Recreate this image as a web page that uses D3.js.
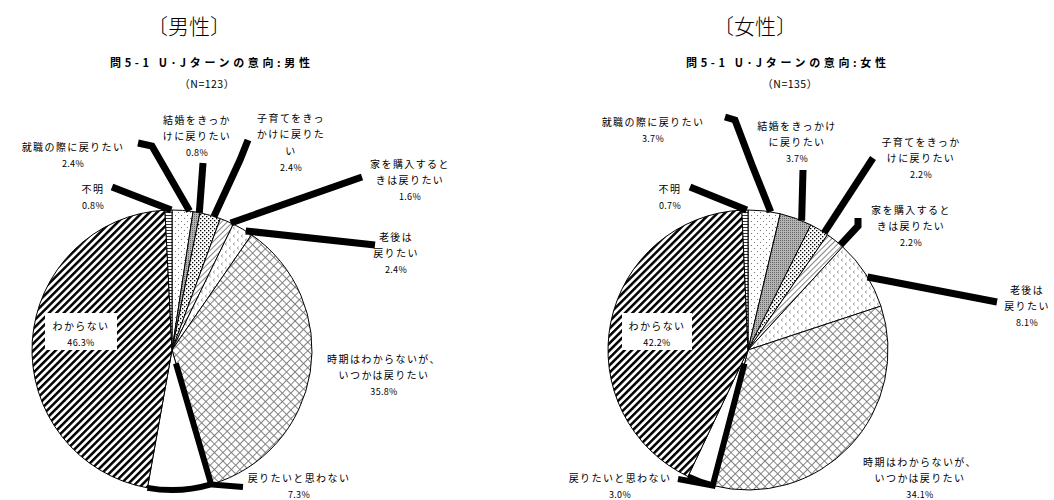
<!DOCTYPE html>
<html lang="ja">
<head>
<meta charset="UTF-8">
<title>U・Jターンの意向</title>
<style>
  body { margin: 0; background: #fff; }
  text { font-family: "Noto Sans CJK JP", "Noto Sans", sans-serif; fill: #000; }
</style>
</head>
<body>
<div id="chart"></div>
<script src="https://d3js.org/d3.v7.min.js"></script>
<script>
// data
const categories = ["就職の際に戻りたい", "結婚をきっかけに戻りたい", "子育てをきっかけに戻りたい",
  "家を購入するときは戻りたい", "老後は戻りたい", "時期はわからないが、いつかは戻りたい",
  "戻りたいと思わない", "わからない", "不明"];
const maleValues = [2.4, 0.8, 2.4, 1.6, 2.4, 35.8, 7.3, 46.3, 0.8];
const femaleValues = [3.7, 3.7, 2.2, 2.2, 8.1, 34.1, 3.0, 42.2, 0.7];
const panelTitles = ["〔男性〕", "〔女性〕"];
const subTitles = ["問5-1  U･Jターンの意向:男性", "問5-1  U･Jターンの意向:女性"];
const sampleSizes = ["（N=123）", "（N=135）"];

// fill per category
const fills = ["url(#pDotsSparse)", "url(#pGray)", "url(#pDotsDense)", "url(#pDiag)", "url(#pChevron)",
  "url(#pCross)", "#fff", "url(#pStripe)", "url(#pHoriz)"];

// label layout: text lines, position, leader points (leader ends on the slice at fraction "at")
const maleLayout = {
  cx: 172, cy: 350, r: 140, titleX: 189, subX: 210, nX: 207,
  labels: [
    { lines: ["就職の際に戻りたい"], x: 73, y: 146, leader: [[138, 143], [152, 146]], at: 0.83 },
    { lines: ["結婚をきっか", "けに戻りたい"], x: 197, y: 119, leader: [[203, 163]], at: 0.9 },
    { lines: ["子育てをきっ", "かけに戻りた", "い"], x: 291, y: 117, leader: [[248, 140], [240, 160]], at: 0.68 },
    { lines: ["家を購入すると", "きは戻りたい"], x: 410, y: 163, leader: [[362, 177]], at: 0.8 },
    { lines: ["老後は", "戻りたい"], x: 396, y: 236, leader: [[375, 245]], at: 0.67 },
    { lines: ["時期はわからないが、", "いつかは戻りたい"], x: 384, y: 358 },
    { lines: ["戻りたいと思わない"], x: 299, y: 477, leader: [[243, 487]], outline: true },
    { lines: ["わからない"], x: 81, y: 325, box: [45, 313, 72, 37] },
    { lines: ["不明"], x: 93, y: 188, leader: [[112, 187]], at: 0.9 }
  ]
};
const femaleLayout = {
  cx: 748, cy: 350, r: 140, titleX: 755, subX: 786, nX: 790,
  labels: [
    { lines: ["就職の際に戻りたい"], x: 653, y: 121, leader: [[725, 117], [735, 120], [752, 165]], at: 0.7 },
    { lines: ["結婚をきっかけ", "に戻りたい"], x: 797, y: 125, leader: [[803, 170]], at: 0.69 },
    { lines: ["子育てをきっか", "けに戻りたい"], x: 921, y: 141, leader: [[873, 158]], at: 0.8 },
    { lines: ["家を購入すると", "きは戻りたい"], x: 911, y: 209, leader: [[858, 218], [858, 226]], at: 0.85 },
    { lines: ["老後は", "戻りたい"], x: 1027, y: 289, leader: [[997, 302]], at: 0.55 },
    { lines: ["時期はわからないが、", "いつかは戻りたい"], x: 920, y: 461 },
    { lines: ["戻りたいと思わない"], x: 620, y: 477, leader: [[678, 479]], outline: true },
    { lines: ["わからない"], x: 657, y: 325, box: [622, 313, 70, 37] },
    { lines: ["不明"], x: 670, y: 188, leader: [[690, 187]], at: 0.8 }
  ]
};

const svg = d3.select("#chart").append("svg")
  .attr("width", 1054)
  .attr("height", 500);

// patterns
const defs = svg.append("defs");
function pattern(id, w, h, transform) {
  const p = defs.append("pattern")
    .attr("id", id)
    .attr("patternUnits", "userSpaceOnUse")
    .attr("width", w)
    .attr("height", h);
  if (transform) p.attr("patternTransform", transform);
  p.append("rect").attr("width", w).attr("height", h).attr("fill", "#fff");
  return p;
}
let p = pattern("pDotsSparse", 6, 6);
p.append("rect").attr("x", 0).attr("y", 0).attr("width", 1).attr("height", 1).attr("fill", "#777");
p.append("rect").attr("x", 3).attr("y", 3).attr("width", 1).attr("height", 1).attr("fill", "#777");

p = pattern("pGray", 2, 2);
p.select("rect").attr("fill", "#b4b4b4");
p.append("rect").attr("width", 1).attr("height", 1).attr("fill", "#666");

p = pattern("pDotsDense", 4, 4);
p.append("rect").attr("x", 0).attr("y", 0).attr("width", 1.3).attr("height", 1.3).attr("fill", "#000");
p.append("rect").attr("x", 2).attr("y", 2).attr("width", 1.3).attr("height", 1.3).attr("fill", "#000");

p = pattern("pDiag", 4, 4, "rotate(45)");
p.append("line").attr("x1", 0.5).attr("y1", 0).attr("x2", 0.5).attr("y2", 4).attr("stroke", "#777").attr("stroke-width", 0.9);

p = pattern("pChevron", 8, 8);
p.append("path").attr("d", "M3,0.5 L1,2 L3,3.5").attr("fill", "none").attr("stroke", "#888").attr("stroke-width", 0.7);
p.append("path").attr("d", "M7,4.5 L5,6 L7,7.5").attr("fill", "none").attr("stroke", "#888").attr("stroke-width", 0.7);

p = pattern("pCross", 6, 6, "rotate(45)");
p.append("line").attr("x1", 0).attr("y1", 0.5).attr("x2", 6).attr("y2", 0.5).attr("stroke", "#777").attr("stroke-width", 0.9);
p.append("line").attr("x1", 0.5).attr("y1", 0).attr("x2", 0.5).attr("y2", 6).attr("stroke", "#777").attr("stroke-width", 0.9);

p = pattern("pStripe", 5.2, 5.2, "rotate(45)");
p.append("rect").attr("x", 0).attr("y", 0).attr("width", 2.5).attr("height", 5.2).attr("fill", "#000");

p = pattern("pHoriz", 3, 3);
p.append("line").attr("x1", 0).attr("y1", 0.5).attr("x2", 3).attr("y2", 0.5).attr("stroke", "#333").attr("stroke-width", 1);

const pie = d3.pie().sort(null).value(d => d);

function drawPanel(values, layout, i) {
  const g = svg.append("g");
  const arcs = pie(values);
  const arc = d3.arc().innerRadius(0).outerRadius(layout.r);
  const edge = a => [layout.cx + layout.r * Math.sin(a), layout.cy - layout.r * Math.cos(a)];

  // titles
  g.append("text").attr("x", layout.titleX).attr("y", 25)
    .attr("text-anchor", "middle").attr("dominant-baseline", "central")
    .style("font-size", "21px").style("font-weight", "300").text(panelTitles[i]);
  g.append("text").attr("x", layout.subX).attr("y", 62)
    .attr("text-anchor", "middle").attr("dominant-baseline", "central")
    .attr("textLength", 200).attr("lengthAdjust", "spacing")
    .style("font-size", "11px").style("font-weight", "bold").text(subTitles[i]);
  g.append("text").attr("x", layout.nX).attr("y", 83)
    .attr("text-anchor", "middle").attr("dominant-baseline", "central")
    .style("font-size", "10.5px").style("letter-spacing", "0.5px").text(sampleSizes[i]);

  // slices
  g.append("g").attr("transform", `translate(${layout.cx},${layout.cy})`)
    .selectAll("path")
    .data(arcs)
    .enter()
    .append("path")
    .attr("d", arc)
    .attr("fill", (d, j) => fills[j])
    .attr("stroke", "#000")
    .attr("stroke-width", 1);

  // leader lines
  layout.labels.forEach((lab, j) => {
    if (!lab.leader) return;
    const a = arcs[j];
    if (lab.outline) {
      const path = d3.path();
      const s = edge(a.startAngle);
      path.moveTo(lab.leader[0][0], lab.leader[0][1]);
      path.lineTo(s[0], s[1]);
      path.lineTo(layout.cx + (s[0] - layout.cx) * 0.1, layout.cy + (s[1] - layout.cy) * 0.1);
      path.moveTo(s[0], s[1]);
      path.arc(layout.cx, layout.cy, layout.r, a.startAngle - Math.PI / 2, a.endAngle - Math.PI / 2);
      g.append("path").attr("d", path.toString())
        .attr("fill", "none").attr("stroke", "#000").attr("stroke-width", 6);
      return;
    }
    const ang = a.startAngle + lab.at * (a.endAngle - a.startAngle);
    const pts = lab.leader.concat([edge(ang)]);
    g.append("path").attr("d", d3.line()(pts))
      .attr("fill", "none").attr("stroke", "#000").attr("stroke-width", 7)
      .attr("stroke-linejoin", "miter");
  });

  // labels
  layout.labels.forEach((lab, j) => {
    if (lab.box) {
      g.append("rect").attr("x", lab.box[0]).attr("y", lab.box[1])
        .attr("width", lab.box[2]).attr("height", lab.box[3]).attr("fill", "#fff");
    }
    const step = 16.5;
    lab.lines.forEach((line, k) => {
      g.append("text").attr("x", lab.x).attr("y", lab.y + k * step)
        .attr("text-anchor", "middle").attr("dominant-baseline", "central")
        .style("font-size", "10px").style("letter-spacing", "1.4px").text(line);
    });
    g.append("text").attr("x", lab.x).attr("y", lab.y + lab.lines.length * step + 0.5)
      .attr("text-anchor", "middle").attr("dominant-baseline", "central")
      .style("font-size", "9px").style("letter-spacing", "0.3px")
      .text(values[j].toFixed(1) + "%");
  });
}

drawPanel(maleValues, maleLayout, 0);
drawPanel(femaleValues, femaleLayout, 1);
</script>
</body>
</html>
